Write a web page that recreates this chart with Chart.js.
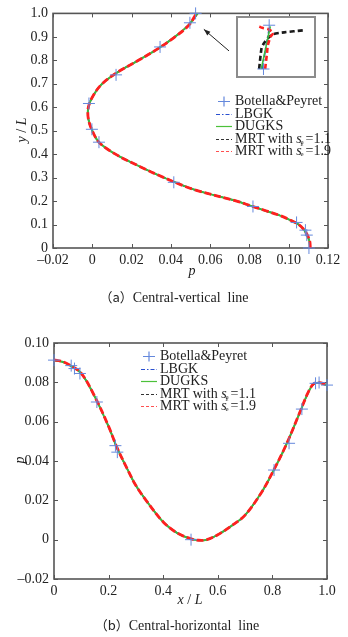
<!DOCTYPE html>
<html>
<head>
<meta charset="utf-8">
<script src="https://cdn.jsdelivr.net/npm/chart.js@4.4.0/dist/chart.umd.min.js"></script>
<style>
  body { margin: 0; background: #fff; width: 348px; height: 637px; position: relative; overflow: hidden;
         font-family: "Liberation Serif", "Times New Roman", serif; color: #222; }
  canvas { position: absolute; left: 0; }
  .txt { position: absolute; white-space: nowrap; font-size: 14px; line-height: 14px; transform: translate(-50%, -50%); }
  .rot { transform: translate(-50%, -50%) rotate(-90deg); }
  .cap { font-size: 14px; }
  .cap .pa { font-family: "Noto Sans CJK SC", "Liberation Serif", serif; font-size: 13px; }
  .leg { position: absolute; font-size: 14px; }
  .leg .row { position: relative; height: 12.5px; line-height: 12.5px; white-space: nowrap; }
  .leg svg { position: absolute; left: 0; top: 0; }
  .leg span.t { position: absolute; left: 19px; top: 0; }
  .ss { display: inline-block; position: relative; width: 4px; height: 10px; vertical-align: baseline; }
  .ss sup, .ss sub { position: absolute; left: -1px; font-size: 7px; line-height: 7px; }
  .ss sup { top: -4px; }
  .ss sub { top: 6px; }
  #inset { position: absolute; left: 236px; top: 16px; width: 76px; height: 58px; border: 2px solid #8c8c8c; background: #fff; }
  #inset canvas { position: absolute; left: 0; top: 0; }
</style>
</head>
<body>
<canvas id="vertChart" width="348" height="285" style="top:0"></canvas>
<div id="inset"><canvas id="insetChart" width="76" height="58"></canvas></div>
<canvas id="horizChart" width="348" height="327" style="top:310px"></canvas>

<div class="txt" style="left:192px;top:271px"><i>p</i></div>
<div class="txt rot" style="left:22px;top:130px"><i>y</i> / <i>L</i></div>
<div class="txt cap" style="left:174px;top:297px"><span class="pa">（a）</span>Central-vertical&nbsp; line</div>

<div class="txt rot" style="left:20px;top:460px"><i>p</i></div>
<div class="txt" style="left:190px;top:600px"><i>x</i> / <i>L</i></div>
<div class="txt cap" style="left:177px;top:625px"><span class="pa">（b）</span>Central-horizontal&nbsp; line</div>

<div class="leg" id="legVert" style="left:216px;top:95px"></div>
<div class="leg" id="legHoriz" style="left:141px;top:350px"></div>

<script>
// series names (legend)
const seriesNames = ['Botella&Peyret', 'LBGK', 'DUGKS', 'MRT with s_e=1.1', 'MRT with s_e=1.9'];
const legendHtml = ['Botella&amp;Peyret', 'LBGK', 'DUGKS',
  'MRT with <i>s</i><span class="ss"><sub>e</sub></span>=1.1',
  'MRT with <i>s</i><span class="ss"><sup>ε</sup><sub>e</sub></span>=1.9'];
const seriesColors = ['#6488dc', '#2346c8', '#3cba3c', '#1a1a1a', '#ff2020'];
const seriesDash = [[], [6, 2, 2, 2], [], [5, 3], [7, 3]];

// (a) central-vertical line: p along y/L
const vertY = [0, 0.03, 0.06, 0.08, 0.10, 0.12, 0.14, 0.16, 0.18, 0.20, 0.25, 0.30, 0.35, 0.40, 0.45, 0.50,
               0.55, 0.60, 0.65, 0.70, 0.75, 0.80, 0.85, 0.90, 0.95, 1.00];
const vertLbgk = [0.1108, 0.1105, 0.1090, 0.1075, 0.1050, 0.1005, 0.0950, 0.0878, 0.0805, 0.0735, 0.0515, 0.0365,
                  0.0235, 0.0118, 0.0035, 0.0000, -0.0020, -0.0020, 0.0005, 0.0050, 0.0130, 0.0235, 0.0335, 0.0420, 0.0490, 0.0535];
const vertDugks = [0.1108, 0.1105, 0.1090, 0.1075, 0.1050, 0.1005, 0.0950, 0.0878, 0.0805, 0.0735, 0.0515, 0.0365,
                   0.0235, 0.0118, 0.0035, 0.0000, -0.0020, -0.0020, 0.0005, 0.0050, 0.0130, 0.0235, 0.0335, 0.0420, 0.0490, 0.0536];
const vertMrt11 = [0.1107, 0.1105, 0.1090, 0.1075, 0.1050, 0.1005, 0.0950, 0.0878, 0.0805, 0.0735, 0.0515, 0.0365,
                   0.0235, 0.0118, 0.0035, 0.0000, -0.0020, -0.0020, 0.0005, 0.0050, 0.0130, 0.0235, 0.0335, 0.0420, 0.0489, 0.0538];
const vertMrt19 = [0.1110, 0.1107, 0.1092, 0.1076, 0.1051, 0.1006, 0.0951, 0.0879, 0.0806, 0.0735, 0.0515, 0.0365,
                   0.0235, 0.0118, 0.0035, 0.0000, -0.0020, -0.0020, 0.0005, 0.0050, 0.0130, 0.0235, 0.0335, 0.0421, 0.0492, 0.0530];
const benchVertP = [0.1103, 0.1092, 0.1085, 0.1040, 0.0818, 0.0415, 0.0034, -0.0002, -0.0017, 0.0121, 0.0345, 0.0497, 0.0526];
const benchVertY = [0.000, 0.055, 0.076, 0.109, 0.177, 0.280, 0.451, 0.506, 0.616, 0.738, 0.857, 0.960, 1.000];
const vertXTicks = ['\u20130.02', '0', '0.02', '0.04', '0.06', '0.08', '0.10', '0.12'];
const vertYTicks = ['0', '0.1', '0.2', '0.3', '0.4', '0.5', '0.6', '0.7', '0.8', '0.9', '1.0'];

// inset: zoom of the top end of (a), in fractions of the inset window
const insetLbgkX = [0.276, 0.335, 0.395];
const insetLbgkY = [0.0, 0.48, 0.95];
const insetDugksX = [0.263, 0.335, 0.408];
const insetDugksY = [0.0, 0.48, 0.97];
const insetMrt11X = [0.228, 0.267, 0.303, 0.368, 0.457, 0.632, 0.939];
const insetMrt11Y = [0.005, 0.477, 0.581, 0.695, 0.793, 0.833, 0.879];
const insetMrt19X = [0.325, 0.355, 0.368, 0.412, 0.457, 0.368, 0.280, 0.228];
const insetMrt19Y = [0.005, 0.362, 0.534, 0.736, 0.822, 0.908, 0.936, 0.966];
const insetBenchX = [0.298, 0.390];
const insetBenchY = [0.0, 0.995];

// (b) central-horizontal line: p along x/L
const horizX = [0, 0.03, 0.06, 0.10, 0.15, 0.20, 0.23, 0.27, 0.30, 0.34, 0.40, 0.45, 0.50, 0.53, 0.56,
                0.60, 0.65, 0.70, 0.76, 0.80, 0.85, 0.90, 0.93, 0.95, 0.97, 1.00];
const horizLbgk = [0.0912, 0.0905, 0.0885, 0.0845, 0.0725, 0.0575, 0.0470, 0.0355, 0.0275, 0.0195, 0.0090, 0.0035,
                   0.0005, -0.0003, 0.0000, 0.0025, 0.0070, 0.0125, 0.0240, 0.0340, 0.0480, 0.0645, 0.0745, 0.0790, 0.0798, 0.0785];
const horizDugks = [0.0912, 0.0905, 0.0885, 0.0845, 0.0725, 0.0575, 0.0470, 0.0355, 0.0275, 0.0195, 0.0090, 0.0035,
                    0.0005, -0.0003, 0.0000, 0.0025, 0.0070, 0.0125, 0.0240, 0.0340, 0.0480, 0.0645, 0.0745, 0.0790, 0.0798, 0.0785];
const horizMrt11 = [0.0913, 0.0905, 0.0885, 0.0845, 0.0725, 0.0575, 0.0470, 0.0355, 0.0275, 0.0195, 0.0090, 0.0035,
                    0.0005, -0.0003, 0.0000, 0.0025, 0.0070, 0.0125, 0.0240, 0.0340, 0.0480, 0.0645, 0.0745, 0.0790, 0.0799, 0.0786];
const horizMrt19 = [0.0914, 0.0906, 0.0886, 0.0846, 0.0726, 0.0576, 0.0471, 0.0355, 0.0275, 0.0195, 0.0090, 0.0035,
                    0.0005, -0.0003, 0.0000, 0.0025, 0.0070, 0.0125, 0.0240, 0.0341, 0.0481, 0.0646, 0.0746, 0.0791, 0.0800, 0.0787];
const benchHorizX = [0.0, 0.063, 0.075, 0.095, 0.157, 0.225, 0.232, 0.502, 0.806, 0.861, 0.908, 0.958, 0.971, 1.0];
const benchHorizP = [0.0913, 0.0885, 0.0870, 0.0845, 0.0700, 0.0478, 0.0445, 0.0000, 0.0354, 0.0490, 0.0664, 0.0795, 0.0799, 0.0786];
const horizXTicks = ['0', '0.2', '0.4', '0.6', '0.8', '1.0'];
const horizYTicks = ['\u20130.02', '0', '0.02', '0.04', '0.06', '0.08', '0.10'];

Chart.defaults.font.family = "'Liberation Serif', 'Times New Roman', serif";
const tickFont = { family: "'Liberation Serif', 'Times New Roman', serif", size: 14 };

function pts(xs, ys) {
  return xs.map((x, k) => ({ x: x, y: ys[k] }));
}

function curve(xs, ys, i, order, width) {
  return {
    label: seriesNames[i], data: pts(xs, ys), showLine: true, pointRadius: 0,
    borderColor: seriesColors[i], borderWidth: width || 2, borderDash: seriesDash[i],
    tension: 0.35, order: order
  };
}

function marks(xs, ys, radius) {
  return {
    label: seriesNames[0], data: pts(xs, ys), showLine: false, pointStyle: 'cross',
    pointRadius: radius, pointBorderColor: seriesColors[0], pointBorderWidth: 1, clip: false, order: 0
  };
}

function axis(min, max, step, labels, isY, size) {
  return {
    type: 'linear', min: min, max: max,
    grid: { display: false, drawTicks: false }, border: { display: false },
    ticks: {
      stepSize: step, autoSkip: false, maxRotation: 0, padding: isY ? 5 : 4,
      color: '#222', font: tickFont,
      callback: (v, i) => labels[i]
    },
    afterFit: s => { if (isY) s.width = size; else s.height = size; }
  };
}

// MATLAB-like box with inward ticks on all sides
const boxTicks = {
  id: 'boxTicks',
  beforeDatasetsDraw(chart) {
    const { ctx, chartArea: a, scales: { x, y } } = chart;
    ctx.save();
    ctx.strokeStyle = '#555';
    ctx.lineWidth = 1;
    ctx.beginPath();
    x.ticks.forEach(t => {
      const px = Math.round(x.getPixelForValue(t.value)) + 0.5;
      ctx.moveTo(px, a.bottom); ctx.lineTo(px, a.bottom - 4);
      ctx.moveTo(px, a.top); ctx.lineTo(px, a.top + 4);
    });
    y.ticks.forEach(t => {
      const py = Math.round(y.getPixelForValue(t.value)) + 0.5;
      ctx.moveTo(a.left, py); ctx.lineTo(a.left + 4, py);
      ctx.moveTo(a.right, py); ctx.lineTo(a.right - 4, py);
    });
    ctx.stroke();
    ctx.lineWidth = 1.6;
    ctx.strokeRect(a.left, a.top, a.right - a.left, a.bottom - a.top);
    ctx.restore();
  }
};

// arrow pointing from the inset to the top of the curve (a)
const arrowFrom = [0.0696, 0.840];
const arrowTo = [0.0568, 0.932];
const arrowPlugin = {
  id: 'arrow',
  afterDatasetsDraw(chart) {
    const { ctx, scales: { x, y } } = chart;
    const x0 = x.getPixelForValue(arrowFrom[0]), y0 = y.getPixelForValue(arrowFrom[1]);
    const x1 = x.getPixelForValue(arrowTo[0]), y1 = y.getPixelForValue(arrowTo[1]);
    const ang = Math.atan2(y1 - y0, x1 - x0);
    ctx.save();
    ctx.strokeStyle = '#222'; ctx.fillStyle = '#222'; ctx.lineWidth = 1;
    ctx.beginPath(); ctx.moveTo(x0, y0); ctx.lineTo(x1, y1); ctx.stroke();
    ctx.beginPath();
    ctx.moveTo(x1, y1);
    ctx.lineTo(x1 - 7 * Math.cos(ang - 0.35), y1 - 7 * Math.sin(ang - 0.35));
    ctx.lineTo(x1 - 7 * Math.cos(ang + 0.35), y1 - 7 * Math.sin(ang + 0.35));
    ctx.closePath(); ctx.fill();
    ctx.restore();
  }
};

const common = {
  responsive: false, animation: false, events: [],
  plugins: { legend: { display: false }, tooltip: { enabled: false } }
};

function drawAll() {
  // drawing order: markers on top, then red, green, blue, black underneath
  new Chart(document.getElementById('vertChart'), {
    type: 'scatter',
    data: {
      datasets: [
        marks(benchVertP, benchVertY, 6),
        curve(vertLbgk, vertY, 1, 3, 1.6),
        curve(vertDugks, vertY, 2, 2, 2),
        curve(vertMrt11, vertY, 3, 4, 1.2),
        curve(vertMrt19, vertY, 4, 1, 2.8)
      ]
    },
    options: Object.assign({}, common, {
      layout: { padding: { top: 11, right: 20, left: 0, bottom: 0 } },
      scales: {
        x: axis(-0.02, 0.12, 0.02, vertXTicks, false, 37),
        y: axis(0, 1, 0.1, vertYTicks, true, 53)
      }
    }),
    plugins: [boxTicks, arrowPlugin]
  });

  new Chart(document.getElementById('insetChart'), {
    type: 'scatter',
    data: {
      datasets: [
        marks(insetBenchX, insetBenchY, 6),
        curve(insetLbgkX, insetLbgkY, 1, 3, 1.6),
        curve(insetDugksX, insetDugksY, 2, 2, 1.6),
        Object.assign(curve(insetMrt11X, insetMrt11Y, 3, 4, 2.6), { tension: 0.2, borderDash: [5, 3] }),
        Object.assign(curve(insetMrt19X, insetMrt19Y, 4, 1, 2.6), { tension: 0.2, borderDash: [5, 3] })
      ]
    },
    options: Object.assign({}, common, {
      layout: { padding: 0 },
      scales: {
        x: { type: 'linear', min: 0, max: 1, display: false },
        y: { type: 'linear', min: 0, max: 1, display: false }
      }
    })
  });

  new Chart(document.getElementById('horizChart'), {
    type: 'scatter',
    data: {
      datasets: [
        marks(benchHorizX, benchHorizP, 6),
        curve(horizX, horizLbgk, 1, 3, 1.6),
        curve(horizX, horizDugks, 2, 2, 2),
        curve(horizX, horizMrt11, 3, 4, 1.2),
        curve(horizX, horizMrt19, 4, 1, 2.8)
      ]
    },
    options: Object.assign({}, common, {
      layout: { padding: { top: 33, right: 21, left: 0, bottom: 0 } },
      scales: {
        x: axis(0, 1, 0.2, horizXTicks, false, 58),
        y: axis(-0.02, 0.10, 0.02, horizYTicks, true, 54)
      }
    }),
    plugins: [boxTicks]
  });
}

// legends
const legendDash = ['', '4 2 1.5 2', '', '3 2', '3 2'];
const legendColors = ['#6488dc', '#2a50d0', '#4cc13a', '#333', '#ff5050'];
function buildLegend(id) {
  const box = document.getElementById(id);
  legendHtml.forEach((html, i) => {
    const row = document.createElement('div');
    row.className = 'row';
    const sample = i === 0
      ? '<path d="M8 1.5V11.5M2 6.5H14" stroke="' + legendColors[0] + '" stroke-width="1.2"/>'
      : '<line x1="0" y1="6.5" x2="16" y2="6.5" stroke="' + legendColors[i] + '" stroke-width="1.2"' +
        (legendDash[i] ? ' stroke-dasharray="' + legendDash[i] + '"' : '') + '/>';
    row.innerHTML = '<svg width="17" height="13">' + sample + '</svg><span class="t">' + html + '</span>';
    box.appendChild(row);
  });
}
buildLegend('legVert');
buildLegend('legHoriz');

if (document.fonts && document.fonts.load) {
  document.fonts.load("14px 'Liberation Serif'").then(drawAll, drawAll);
} else {
  drawAll();
}
</script>
</body>
</html>
